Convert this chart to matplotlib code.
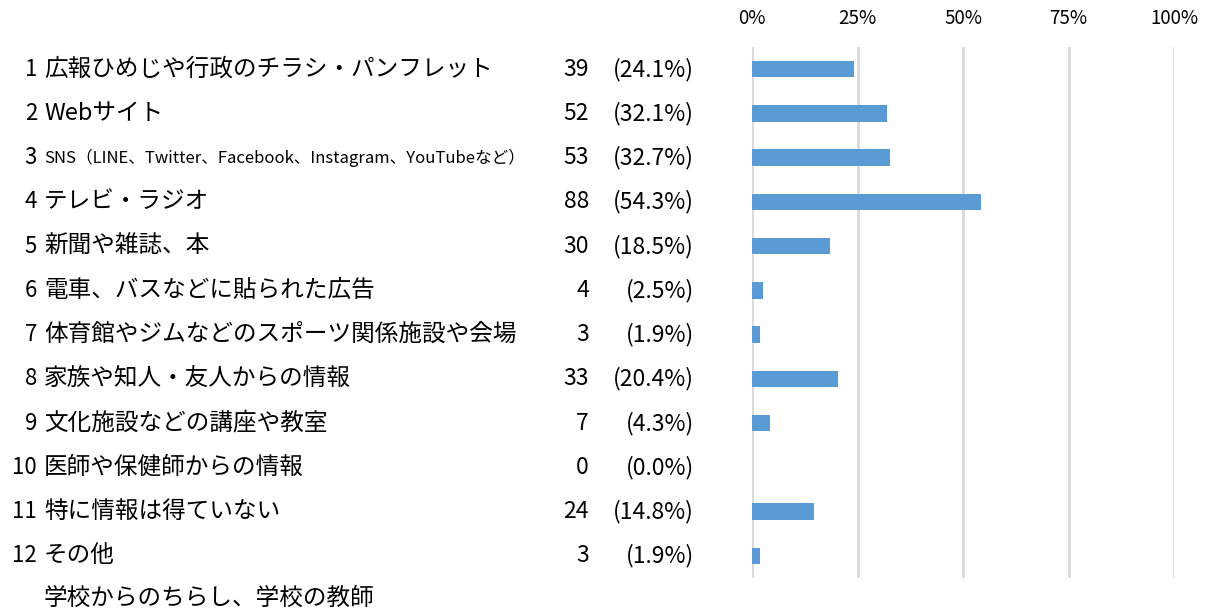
import matplotlib
matplotlib.use("Agg")
import matplotlib.pyplot as plt
import matplotlib.transforms as mtransforms

plt.rcParams['font.family'] = ['Noto Sans CJK JP', 'DejaVu Sans']

labels = [
    "広報ひめじや行政のチラシ・パンフレット",
    "Webサイト",
    "SNS（LINE、Twitter、Facebook、Instagram、YouTubeなど）",
    "テレビ・ラジオ",
    "新聞や雑誌、本",
    "電車、バスなどに貼られた広告",
    "体育館やジムなどのスポーツ関係施設や会場",
    "家族や知人・友人からの情報",
    "文化施設などの講座や教室",
    "医師や保健師からの情報",
    "特に情報は得ていない",
    "その他",
]
counts = [39, 52, 53, 88, 30, 4, 3, 33, 7, 0, 24, 3]
percents = [24.1, 32.1, 32.7, 54.3, 18.5, 2.5, 1.9, 20.4, 4.3, 0.0, 14.8, 1.9]
tick_values = [0, 25, 50, 75, 100]
other_note = "学校からのちらし、学校の教師"

W, H = 1207, 609
fig = plt.figure(figsize=(W / 100, H / 100), dpi=100)

# bar area in pixel coordinates (from the top-left)
x0, x1 = 752, 1174
y_top, y_bot = 47, 578
ax = fig.add_axes([x0 / W, 1 - y_bot / H, (x1 - x0) / W, (y_bot - y_top) / H])

rows = list(range(len(labels)))
ax.barh(rows, percents, height=0.37, color='#5B9BD5', zorder=3)
ax.set_xlim(0, 100)
ax.set_ylim(len(labels) - 0.5, -0.5)

for v in tick_values:
    ax.axvline(v, color='#D9D9D9', lw=2, zorder=1)
ax.set_xticks(tick_values)
ax.set_xticklabels([f"{v}%" for v in tick_values], fontsize=13.5)
ax.xaxis.tick_top()
ax.tick_params(axis='x', length=0, pad=13)
ax.set_yticks([])
for s in ax.spines.values():
    s.set_visible(False)

# text columns: figure x, data y
tr = mtransforms.blended_transform_factory(fig.transFigure, ax.transData)
for i, (lab, c, p) in enumerate(zip(labels, counts, percents)):
    ax.text(37 / W, i, str(i + 1), transform=tr, ha='right', va='center',
            fontsize=16, clip_on=False)
    fs = 12 if lab.startswith("SNS") else 17
    ax.text(44 / W, i, lab, transform=tr, ha='left', va='center',
            fontsize=fs, clip_on=False)
    ax.text(589 / W, i, str(c), transform=tr, ha='right', va='center',
            fontsize=16.5, clip_on=False)
    ax.text(694 / W, i, f"({p:.1f}%)", transform=tr, ha='right', va='center',
            fontsize=16.5, clip_on=False)

fig.text(44 / W, 1 - 598 / H, other_note, ha='left', va='center', fontsize=17)

fig.savefig("out.png", dpi=100, facecolor='white')
